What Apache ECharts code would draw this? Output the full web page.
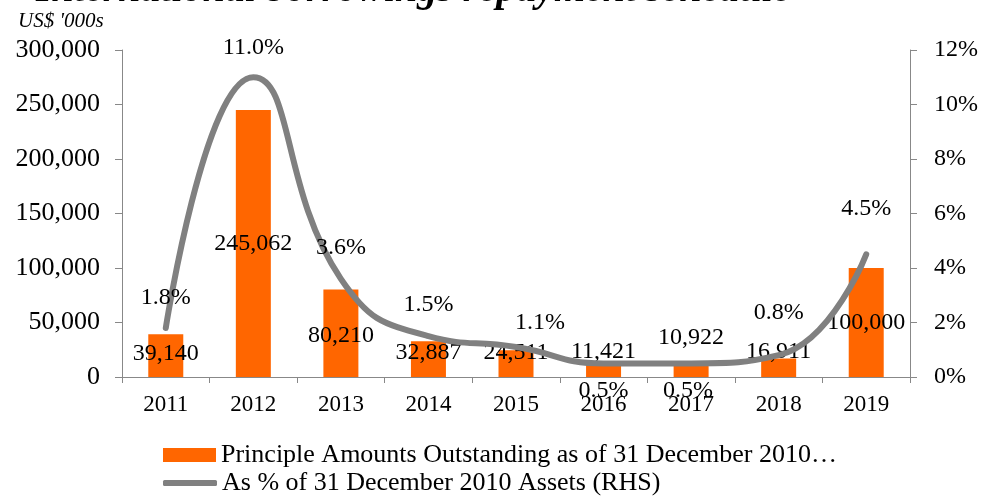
<!DOCTYPE html>
<html>
<head>
<meta charset="utf-8">
<script src="https://cdn.jsdelivr.net/npm/echarts@6/dist/echarts.min.js"></script>
<style>html,body{margin:0;padding:0;background:#fff}#c{width:981px;height:496px}</style>
</head>
<body>
<div id="c"></div>
<script>
const categories = ['2011','2012','2013','2014','2015','2016','2017','2018','2019'];
const principal = [39140, 245062, 80210, 32887, 24511, 11421, 10922, 16911, 100000];
const pctAssets = [1.8, 11.0, 3.6, 1.5, 1.1, 0.5, 0.5, 0.8, 4.5];
const leftTicks = [0, 50000, 100000, 150000, 200000, 250000, 300000];
const rightTicks = [0, 2, 4, 6, 8, 10, 12];
const barName = 'Principle Amounts Outstanding as of 31 December 2010…';
const lineName = 'As % of 31 December 2010 Assets (RHS)';

// label nudges (manual label placement in the original)
const barLabelDy = [-2, 0, 2, -6, -11, -19, -33, -16, 0];
const lineLabelDx = [0, 0, 0, 0, 24, 0, -3, 0, 0];
const lineLabelDy = [-30, -30, -31, -31, -24, 27, 27, -42, -46];

const FONT = '"Liberation Serif", "Times New Roman", serif';
const chart = echarts.init(document.getElementById('c'), null, {renderer: 'canvas'});
const fmt = v => v.toLocaleString('en-US');

chart.setOption({
  animation: false,
  textStyle: {fontFamily: FONT, color: '#000'},
  graphic: [
    {type: 'text', left: 36, top: -29, style: {text: 'International borrowings repayment schedule', font: 'italic bold 40px ' + FONT, fill: '#000'}},
    {type: 'text', left: 18, top: 11, style: {text: "US$ '000s", font: 'italic 21px ' + FONT, fill: '#000'}}
  ],
  grid: {left: 122, right: 71, top: 50, bottom: 119, containLabel: false},
  legend: [
    {
      left: 163, top: 442, padding: 0, itemWidth: 53, itemHeight: 14, itemGap: 0,
      textStyle: {fontFamily: FONT, fontSize: 26, color: '#000'},
      data: [{name: barName, icon: 'rect'}]
    },
    {
      left: 163, top: 470, padding: 0, itemWidth: 54, itemHeight: 6, itemGap: 0,
      textStyle: {fontFamily: FONT, fontSize: 26, color: '#000'},
      data: [{name: lineName, icon: 'roundRect', itemStyle: {color: '#808080', opacity: 1}}]
    }
  ],
  xAxis: {
    type: 'category', data: categories,
    axisLine: {lineStyle: {color: '#888', width: 1}},
    axisTick: {show: true, length: 6, alignWithLabel: false, lineStyle: {color: '#888'}},
    axisLabel: {fontFamily: FONT, fontSize: 23, color: '#000', margin: 16}
  },
  yAxis: [
    {
      type: 'value', min: leftTicks[0], max: leftTicks[leftTicks.length - 1], interval: leftTicks[1] - leftTicks[0],
      axisLine: {show: true, lineStyle: {color: '#888'}},
      axisTick: {show: true, length: 7, lineStyle: {color: '#888'}},
      splitLine: {show: false},
      axisLabel: {fontFamily: FONT, fontSize: 26, color: '#000', margin: 22, formatter: v => fmt(v)}
    },
    {
      type: 'value', min: rightTicks[0], max: rightTicks[rightTicks.length - 1], interval: rightTicks[1] - rightTicks[0], position: 'right',
      axisLine: {show: true, lineStyle: {color: '#888'}},
      axisTick: {show: true, length: 7, lineStyle: {color: '#888'}},
      splitLine: {show: false},
      axisLabel: {fontFamily: FONT, fontSize: 24, color: '#000', margin: 24, formatter: v => v + '%'}
    }
  ],
  series: [
    {
      name: barName,
      type: 'bar', yAxisIndex: 0, barWidth: 35,
      itemStyle: {color: '#FF6600'},
      label: {show: true, position: 'inside', fontFamily: FONT, fontSize: 24, color: '#000', formatter: p => fmt(p.value)},
      data: principal.map((v, i) => ({value: v, label: {offset: [0, barLabelDy[i]]}})),
      z: 2
    },
    {
      name: lineName,
      type: 'line', yAxisIndex: 1, smooth: 0.5,
      symbol: 'circle', symbolSize: 1, showSymbol: true,
      itemStyle: {color: 'rgba(128,128,128,0)', borderWidth: 0},
      lineStyle: {color: '#808080', width: 6, cap: 'round'},
      label: {show: true, position: 'inside', fontFamily: FONT, fontSize: 24, color: '#000', formatter: p => p.value.toFixed(1) + '%'},
      data: pctAssets.map((v, i) => ({value: v, label: {offset: [lineLabelDx[i], lineLabelDy[i]]}})),
      z: 3
    }
  ]
});
</script>
</body>
</html>
